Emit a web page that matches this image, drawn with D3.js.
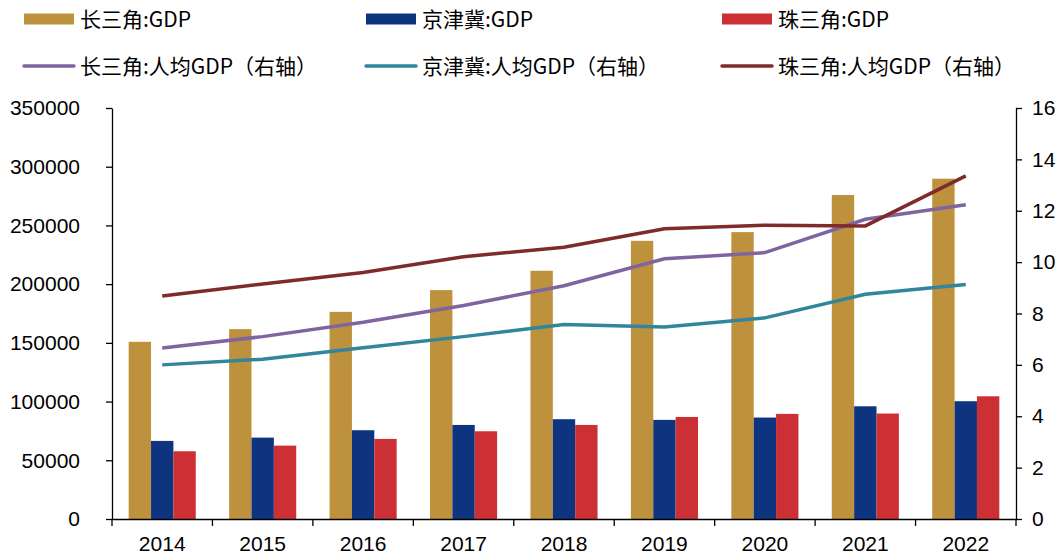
<!DOCTYPE html>
<html>
<head>
<meta charset="utf-8">
<script src="https://cdn.jsdelivr.net/npm/d3@7"></script>
<style>
    body { margin: 0; background: #fff; }
    .axis text { font-family: "Liberation Sans", Arial, sans-serif; font-size: 21px; fill: #000; }
    .axis path, .axis line { stroke: #000; stroke-width: 1.3px; }
    .legend text { font-family: "Noto Sans CJK SC", sans-serif; font-size: 21px; fill: #000; }
</style>
</head>
<body>
<div id="chart"></div>
<script>
// data
let years = ["2014", "2015", "2016", "2017", "2018", "2019", "2020", "2021", "2022"];

let gdpYRD = [150900, 161700, 176400, 194900, 211400, 236900, 244300, 275900, 289800];
let gdpJJJ = [66500, 69300, 75600, 80100, 85000, 84400, 86400, 96000, 100300];
let gdpPRD = [57700, 62500, 68200, 74700, 80100, 86900, 89500, 89800, 104500];

let perYRD = [6.66, 7.10, 7.66, 8.31, 9.08, 10.13, 10.37, 11.67, 12.23];
let perJJJ = [6.00, 6.22, 6.67, 7.10, 7.57, 7.47, 7.83, 8.75, 9.13];
let perPRD = [8.68, 9.15, 9.60, 10.21, 10.58, 11.30, 11.44, 11.41, 13.36];

let leftTicks = [0, 50000, 100000, 150000, 200000, 250000, 300000, 350000];
let rightTicks = [0, 2, 4, 6, 8, 10, 12, 14, 16];

let barSeries = [
    {name: "长三角:GDP", values: gdpYRD, color: "#BE913D"},
    {name: "京津冀:GDP", values: gdpJJJ, color: "#0E3480"},
    {name: "珠三角:GDP", values: gdpPRD, color: "#CC3035"}
];
let lineSeries = [
    {name: "长三角:人均GDP（右轴）", values: perYRD, color: "#8064A2"},
    {name: "京津冀:人均GDP（右轴）", values: perJJJ, color: "#31859C"},
    {name: "珠三角:人均GDP（右轴）", values: perPRD, color: "#7F2B2B"}
];

let width = 1064, height = 557;
let plot = {left: 112, right: 1016, top: 108, bottom: 519};

let svg = d3.select("#chart").append("svg")
    .attr("width", width)
    .attr("height", height);

// scales
let x = d3.scaleBand()
    .domain(years)
    .range([plot.left, plot.right]);

let bw = x.bandwidth();
let x1 = d3.scaleBand()
    .domain(barSeries.map(d => d.name))
    .range([bw * 0.166, bw * 0.834]);

let yL = d3.scaleLinear()
    .domain([0, 350000])
    .range([plot.bottom, plot.top]);

let yR = d3.scaleLinear()
    .domain([0, 16])
    .range([plot.bottom, plot.top]);

// bars
barSeries.forEach(s => {
    svg.append("g").selectAll("rect")
        .data(s.values)
        .enter().append("rect")
        .attr("x", (d, i) => x(years[i]) + x1(s.name))
        .attr("width", x1.bandwidth())
        .attr("y", d => yL(d))
        .attr("height", d => yL(0) - yL(d))
        .attr("fill", s.color);
});

// lines on the right axis
let line = d3.line()
    .x((d, i) => x(years[i]) + bw / 2)
    .y(d => yR(d));

lineSeries.forEach(s => {
    svg.append("path")
        .datum(s.values)
        .attr("fill", "none")
        .attr("stroke", s.color)
        .attr("stroke-width", 3.5)
        .attr("d", line);
});

// axes
svg.append("g")
    .attr("class", "axis")
    .attr("transform", `translate(${plot.left},0)`)
    .call(d3.axisLeft(yL).tickValues(leftTicks).tickFormat(d3.format("d"))
        .tickSize(6).tickSizeOuter(0).tickPadding(26));

svg.append("g")
    .attr("class", "axis")
    .attr("transform", `translate(${plot.right},0)`)
    .call(d3.axisRight(yR).tickValues(rightTicks).tickSize(6).tickSizeOuter(0).tickPadding(10));

let bottomAxis = svg.append("g")
    .attr("class", "axis")
    .attr("transform", `translate(0,${plot.bottom})`)
    .call(d3.axisBottom(x).tickSize(0).tickPadding(17));

// category boundary ticks
let bounds = years.map(d => x(d)).concat([x.range()[1]]);
bottomAxis.selectAll(".bound")
    .data(bounds)
    .enter().append("line")
    .attr("class", "bound")
    .attr("x1", d => d).attr("x2", d => d)
    .attr("y1", 0).attr("y2", 7);

// legend
let legendCols = [24, 366, 722];
let legend = svg.append("g").attr("class", "legend");

barSeries.forEach((s, i) => {
    let g = legend.append("g").attr("transform", `translate(${legendCols[i]},19)`);
    g.append("rect")
        .attr("x", 0).attr("y", -5.5)
        .attr("width", 50).attr("height", 11)
        .attr("fill", s.color);
    g.append("text")
        .attr("x", 56).attr("y", 0)
        .attr("dy", "0.36em")
        .text(s.name);
});

lineSeries.forEach((s, i) => {
    let g = legend.append("g").attr("transform", `translate(${legendCols[i]},66)`);
    g.append("line")
        .attr("x1", 0).attr("x2", 50)
        .attr("stroke", s.color)
        .attr("stroke-width", 3.5)
        .attr("stroke-linecap", "round");
    g.append("text")
        .attr("x", 56).attr("y", 0)
        .attr("dy", "0.36em")
        .text(s.name);
});
</script>
</body>
</html>
